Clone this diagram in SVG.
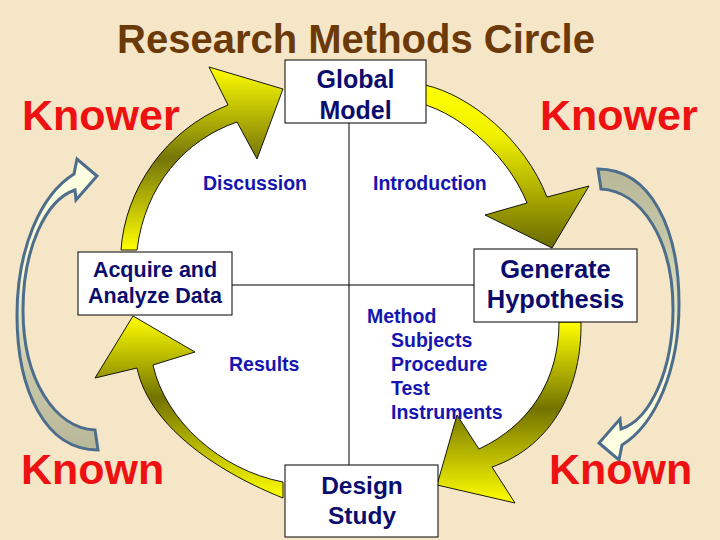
<svg xmlns="http://www.w3.org/2000/svg" width="720" height="540" viewBox="0 0 720 540">
<style>
.box{fill:#ffffff;stroke:#000000;stroke-width:1}
.bt{font-family:"Liberation Sans",Arial,sans-serif;font-weight:bold;fill:#0C0C6E;text-anchor:middle}
.lt{font-family:"Liberation Sans",Arial,sans-serif;font-weight:bold;fill:#1515B0;font-size:19.5px}
.kn{font-family:"Liberation Sans",Arial,sans-serif;font-weight:bold;fill:#EE1111;font-size:43px}
.ya{stroke:#000000;stroke-width:0.9;stroke-linejoin:miter}
.ba{fill:url(#gb);stroke:#4D6D8C;stroke-width:3;stroke-linejoin:miter}
.ln{stroke:#000000;stroke-width:1;fill:none}
</style>
<defs>
<linearGradient id="g1" gradientUnits="userSpaceOnUse" x1="0" y1="67" x2="0" y2="250">
<stop offset="0" stop-color="#FFFF00"/><stop offset="0.5" stop-color="#75750A"/><stop offset="1" stop-color="#FFFF00"/>
</linearGradient>
<linearGradient id="g2" gradientUnits="userSpaceOnUse" x1="0" y1="85" x2="0" y2="248">
<stop offset="0" stop-color="#FFFF00"/><stop offset="0.3" stop-color="#F2F200"/><stop offset="1" stop-color="#6A6A00"/>
</linearGradient>
<linearGradient id="g3" gradientUnits="userSpaceOnUse" x1="0" y1="322" x2="0" y2="503">
<stop offset="0" stop-color="#FFFF00"/><stop offset="0.48" stop-color="#737300"/><stop offset="1" stop-color="#FFFF00"/>
</linearGradient>
<linearGradient id="g4" gradientUnits="userSpaceOnUse" x1="0" y1="316" x2="0" y2="498">
<stop offset="0" stop-color="#FFFF00"/><stop offset="0.45" stop-color="#737300"/><stop offset="1" stop-color="#FFFF00"/>
</linearGradient>
<linearGradient id="gb" x1="0" y1="0" x2="0" y2="1">
<stop offset="0" stop-color="#FFFFE4"/><stop offset="0.4" stop-color="#F5F5D2"/><stop offset="0.75" stop-color="#C8C8A8"/><stop offset="1" stop-color="#B8B898"/>
</linearGradient>
<path id="blueArrow" class="ba" d="M95,430 L98,450 C45,450 17,390 17,315 C17,250 40,195 74,174 L77,159 L97,176 L76,200 L75,190 C45,200 23,250 23,310 C23,380 55,428 95,430 Z"/>
</defs>

<rect x="0" y="0" width="720" height="540" fill="#F6E6C8"/>
<path id="white-disc" fill="#ffffff" d="M137,250 C145,185 185,140 237,122 L283,89 L300,89 L300,103 L419,103 C465,115 510,160 527,203 L552,249 L600,280 L559,322 C559,380 530,425 479,449 L437,484 L420,480 L300,480 L283,482 C220,470 165,420 153,365 L133,316 L150,300 L137,252 Z"/>

<text x="356" y="53" text-anchor="middle" font-family="'Liberation Sans',Arial,sans-serif" font-weight="bold" font-size="40" fill="#6B3A08">Research Methods Circle</text>

<g id="connectors">
<line class="ln" x1="349" y1="123" x2="349" y2="465"/>
<line class="ln" x1="232" y1="285" x2="474" y2="285"/>
<path id="arrow-acquire-global" class="ya" fill="url(#g1)" d="M121,250 C125,190 165,130 228,105 L209,67 L283,89 L257,159 L237,122 C185,140 145,185 137,250 Z"/>
<path id="arrow-global-generate" class="ya" fill="url(#g2)" d="M425,85 C470,95 525,140 547,197 L589,186 L552,248 L485,215 L527,203 C510,160 465,115 419,103 Z"/>
<path id="arrow-generate-design" class="ya" fill="url(#g3)" d="M581,322 C582,385 555,445 492,467 L515,503 L437,485 L457,415 L479,449 C530,425 559,380 559,322 Z"/>
<path id="arrow-design-acquire" class="ya" fill="url(#g4)" d="M283,482 L283,498 C225,475 150,430 137,368 L95,378 L133,316 L195,352 L153,365 C165,420 220,470 283,482 Z"/>
<use id="arrow-known-knower-left" href="#blueArrow"/>
<use id="arrow-knower-known-right" href="#blueArrow" transform="rotate(180 348 309.5)"/>
</g>

<g id="node-global-model">
<rect class="box" x="285" y="60" width="141" height="63"/>
<text class="bt" font-size="25" x="355.5" y="88">Global</text>
<text class="bt" font-size="25" x="355.5" y="119">Model</text>
</g>
<g id="node-acquire">
<rect class="box" x="78" y="252" width="154" height="63"/>
<text class="bt" font-size="21.5" x="155" y="277">Acquire and</text>
<text class="bt" font-size="21.5" x="155" y="303">Analyze Data</text>
</g>
<g id="node-generate">
<rect class="box" x="474" y="249" width="163" height="73"/>
<text class="bt" font-size="25.5" x="555.5" y="278">Generate</text>
<text class="bt" font-size="25.5" x="555.5" y="308">Hypothesis</text>
</g>
<g id="node-design">
<rect class="box" x="285" y="465" width="153" height="72"/>
<text class="bt" font-size="24.5" x="362" y="494">Design</text>
<text class="bt" font-size="24.5" x="362" y="524">Study</text>
</g>

<g id="node-discussion"><text class="lt" x="203" y="190">Discussion</text></g>
<g id="node-introduction"><text class="lt" x="373" y="190">Introduction</text></g>
<g id="node-results"><text class="lt" x="229" y="371">Results</text></g>
<g id="node-method">
<text class="lt" x="367" y="323">Method</text>
<text class="lt" x="391" y="347">Subjects</text>
<text class="lt" x="391" y="371">Procedure</text>
<text class="lt" x="391" y="395">Test</text>
<text class="lt" x="391" y="419">Instruments</text>
</g>

<g id="node-knower-left"><text class="kn" x="22" y="130">Knower</text></g>
<g id="node-knower-right"><text class="kn" x="540" y="130">Knower</text></g>
<g id="node-known-left"><text class="kn" x="21" y="484">Known</text></g>
<g id="node-known-right"><text class="kn" x="549" y="484">Known</text></g>
</svg>
